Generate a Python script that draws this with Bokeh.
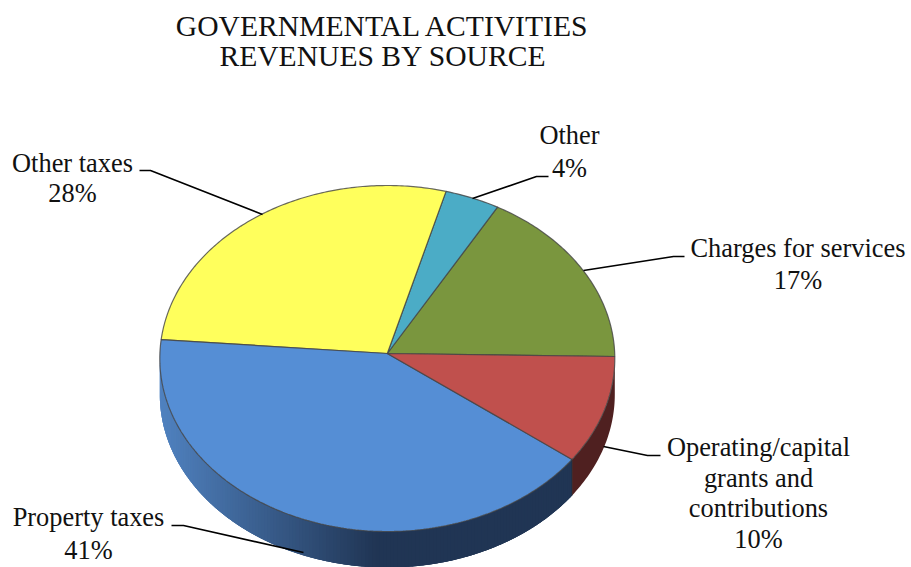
import numpy as np
from bokeh.plotting import figure
from bokeh.models import Range1d
from bokeh.core.properties import value
from bokeh.embed import file_html
from bokeh.resources import INLINE

# Revenue shares, in drawing order counter-clockwise from the east point
sources = ["Charges for services", "Other", "Other taxes", "Property taxes", "Operating/capital grants and contributions"]
shares = [17, 4, 28, 41, 10]
top_colors = ["#7a963e", "#4bacc6", "#ffff5c", "#558ed5", "#c0504d"]
title_lines = ["GOVERNMENTAL ACTIVITIES", "REVENUES BY SOURCE"]

# Label text blocks, one line per entry
label_lines = [
    ["Charges for services", "17%"],
    ["Other", "4%"],
    ["Other taxes", "28%"],
    ["Property taxes", "41%"],
    ["Operating/capital", "grants and", "contributions", "10%"],
]

# Geometry of the tilted pie, in page pixels. The rim is an ellipse; the apex
# sits a little above its centre because of the perspective.
CX, CY, RX, RY, DEPTH = 386.8, 358.0, 227.5, 173.0, 36.0
APEX_Y = 353.0
START_DEG = -1.0
FONT = value("Liberation Serif")

label_x = [797.5, 569, 72, 88, 758]
label_y = [[247, 279], [134, 167], [162, 192], [516, 549], [446, 477, 507, 538]]
leaders = [
    ([583, 673, 684], [270, 256, 256]),
    ([472, 536, 548], [198, 176, 176]),
    ([262, 150, 139], [214, 170, 170]),
    ([303, 183, 171], [552, 525, 525]),
    ([603, 647, 660], [446, 455, 455]),
]

p = figure(width=911, height=567, output_backend="svg", toolbar_location=None,
           x_range=Range1d(0, 911), y_range=Range1d(567, 0),
           min_border=0, outline_line_color=None, background_fill_color="white")
p.axis.visible = False
p.grid.visible = False


def rim(theta):
    """Point on the rim ellipse at parametric angle theta."""
    return CX + RX * np.cos(theta), CY - RY * np.sin(theta)


def slice_theta(phi):
    """Parametric rim angle reached by a ray from the apex in direction phi."""
    e = (CY - APEX_Y) / RY
    dx, dy = np.cos(phi), np.sin(phi)
    b = e * dy
    t = -b + np.sqrt(b * b + 1 - e * e)
    return np.arctan2(e + t * dy, t * dx)


def mix(c0, c1, t):
    c = [round(u + (v - u) * t) for u, v in zip(c0, c1)]
    return "#%02x%02x%02x" % tuple(c)


edges = np.radians(np.cumsum([0] + shares) * 3.6 + START_DEG)
wall_split = slice_theta(edges[4]) % (2 * np.pi)

# Side wall of the large slice: overlapping strips shaded from left to right
steps = np.linspace(np.pi, wall_split, 160)
xs, ys, cols = [], [], []
for a0 in steps[:-1]:
    arc = np.linspace(a0, min(a0 + 0.05, wall_split), 6)
    x, y = rim(arc)
    xs.append(np.r_[x, x[::-1]])
    ys.append(np.r_[y, y[::-1] + DEPTH])
    t = min(1.0, (x[0] - (CX - RX)) / 215.0)
    cols.append(mix((80, 130, 192), (32, 53, 84), t))
p.patches(xs, ys, fill_color=cols, line_color=None)

# Side wall of the last slice
arc = np.linspace(wall_split, 2 * np.pi, 40)
x, y = rim(arc)
p.patch(np.r_[x, x[::-1]], np.r_[y, y[::-1] + DEPTH], fill_color="#4f2020", line_color=None)

# Top face, one wedge per source
for i, color in enumerate(top_colors):
    phi = np.linspace(edges[i], edges[i + 1], max(10, shares[i] * 5))
    x, y = rim(slice_theta(phi))
    p.patch(np.r_[CX, x], np.r_[APEX_Y, y], fill_color=color,
            line_color="#444444", line_alpha=0.8, line_width=1.2)

# Boundary between the two visible wall colours
bx, by = rim(wall_split)
p.line([bx, bx], [by, by + DEPTH], line_color="#222222", line_alpha=0.6, line_width=1)

# Leader lines from each slice to its label
for lx, ly in leaders:
    p.line(lx, ly, line_color="black", line_width=1.6)

# Labels
tx, ty, tt = [], [], []
for x, ylist, lines in zip(label_x, label_y, label_lines):
    for y, line in zip(ylist, lines):
        tx.append(x); ty.append(y); tt.append(line)
p.text(tx, ty, text=tt, text_font=FONT, text_font_size="26.4px", text_color="#111111",
       text_align="center", text_baseline="middle")

# Chart title
p.text([382.5, 382.5], [25.5, 55.5], text=title_lines, text_font=FONT, text_font_size="29.6px",
       text_color="#111111", text_align="center", text_baseline="middle")

open("out.html", "w").write(file_html(p, INLINE))
